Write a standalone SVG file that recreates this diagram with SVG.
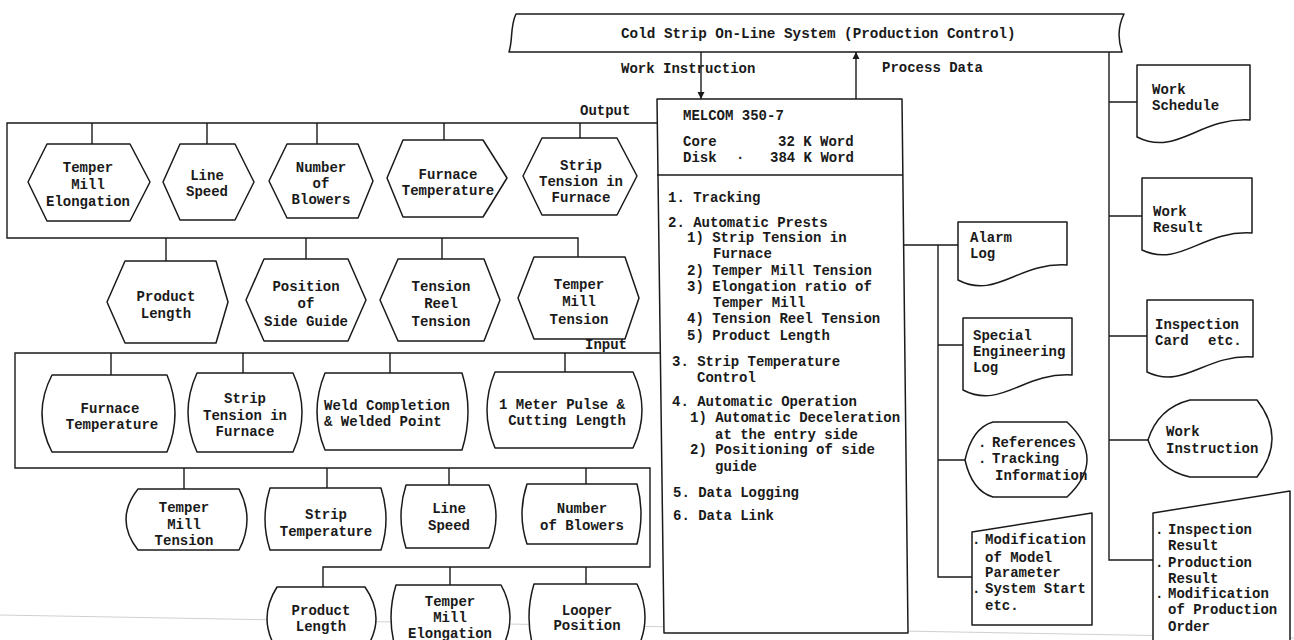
<svg xmlns="http://www.w3.org/2000/svg" width="1294" height="640" viewBox="0 0 1294 640">
<defs>
<marker id="ah" markerWidth="8" markerHeight="8" refX="7" refY="4" orient="auto" markerUnits="userSpaceOnUse"><path d="M0,0.5 L7,4 L0,7.5 z" fill="#1a1a1a"/></marker>
<style>
.s{fill:#fff;stroke:#1a1a1a;stroke-width:1.5;stroke-linejoin:round}
.c{fill:none;stroke:#1a1a1a;stroke-width:1.4}
text{font-family:"Liberation Mono","DejaVu Sans Mono",monospace;font-size:14px;font-weight:bold;fill:#1a1a1a;stroke:none}
.m{text-anchor:middle}
</style>
</defs>
<rect width="1294" height="640" fill="#fff"/>
<line x1="0" y1="615" x2="1294" y2="638" stroke="#d0d0d0" stroke-width="1"/>

<g id="connectors" class="c">
<path d="M657,123 H7 V238 H578 V257 M92,123 V144 M207,123 V144 M317,123 V144 M444,123 V140 M580,123 V138 M166,238 V261 M306,238 V259 M442,238 V259"/>
<path d="M660,353 H15 V468 H650 V567 H323 V587 M111,353 V375 M243,353 V373 M390,353 V373 M565,353 V372 M184,468 V489 M327,468 V488 M449,468 V485 M586,468 V484 M450,567 V585 M586,567 V584"/>
<path d="M902,245 H958 M938,245 V577 H972 M938,345 H963 M938,460 H965"/>
<path d="M1109,52 V560 H1153 M1109,102 H1137 M1109,216 H1142 M1109,336 H1147 M1109,440 H1148"/>
<line x1="701" y1="52" x2="701" y2="99" marker-end="url(#ah)"/>
<line x1="856" y1="99" x2="856" y2="52" marker-end="url(#ah)"/>
</g>
<g id="connector-labels">
<text x="621" y="73">Work Instruction</text>
<text x="882" y="72">Process Data</text>
<text x="580" y="115">Output</text>
<text x="585" y="349">Input</text>
</g>

<g id="banner">
<path class="s" d="M516,14 H1124 C1118,26 1118,40 1122,52 H509 C513,40 510,26 516,14 Z"/>
<text x="621" y="38" style="font-size:14.3px">Cold Strip On-Line System (Production Control)</text>
</g>

<g id="melcom">
<path class="s" d="M657,99 L902,99 L908,633 L664,633 Z"/>
<path class="c" d="M657,175 L903,175"/>
<text x="683" y="120">MELCOM 350-7</text>
<text x="683" y="146">Core</text><text x="778" y="146">32 K Word</text>
<text x="683" y="162">Disk</text><text x="736" y="162">·</text><text x="770" y="162">384 K Word</text>
<text x="668" y="202">1. Tracking</text>
<text x="668" y="227">2. Automatic Prests</text>
<text x="687" y="242">1) Strip Tension in</text>
<text x="713" y="258">Furnace</text>
<text x="687" y="275">2) Temper Mill Tension</text>
<text x="687" y="291">3) Elongation ratio of</text>
<text x="713" y="307">Temper Mill</text>
<text x="687" y="323">4) Tension Reel Tension</text>
<text x="687" y="340">5) Product Length</text>
<text x="672" y="366">3. Strip Temperature</text>
<text x="697" y="382">Control</text>
<text x="672" y="406">4. Automatic Operation</text>
<text x="690" y="422">1) Automatic Deceleration</text>
<text x="715" y="439">at the entry side</text>
<text x="690" y="454">2) Positioning of side</text>
<text x="715" y="471">guide</text>
<text x="673" y="497">5. Data Logging</text>
<text x="673" y="520">6. Data Link</text>
</g>

<g id="out-tm-elong"><polygon class="s" points="28,182 47,144 130,144 150,182 130,221 47,221"/>
<text class="m" x="88" y="172">Temper</text><text class="m" x="88" y="189">Mill</text><text class="m" x="88" y="206">Elongation</text></g>
<g id="out-line-speed"><polygon class="s" points="163,182 180,144 235,144 254,182 235,220 180,220"/>
<text class="m" x="207" y="180">Line</text><text class="m" x="207" y="196">Speed</text></g>
<g id="out-blowers"><polygon class="s" points="269,181 287,144 358,144 373,181 358,218 287,218"/>
<text class="m" x="321" y="172">Number</text><text class="m" x="321" y="188">of</text><text class="m" x="321" y="204">Blowers</text></g>
<g id="out-furnace-temp"><polygon class="s" points="387,178 403,140 483,140 507,178 483,217 403,217"/>
<text class="m" x="448" y="179">Furnace</text><text class="m" x="448" y="195">Temperature</text></g>
<g id="out-strip-tension"><polygon class="s" points="523,176 542,138 617,138 637,176 617,215 542,215"/>
<text class="m" x="581" y="170">Strip</text><text class="m" x="581" y="186">Tension in</text><text class="m" x="581" y="202">Furnace</text></g>

<g id="out-product-length"><polygon class="s" points="107,302 125,261 216,261 228,302 216,343 125,343"/>
<text class="m" x="166" y="301">Product</text><text class="m" x="166" y="318">Length</text></g>
<g id="out-side-guide"><polygon class="s" points="246,300 264,259 348,259 366,300 348,341 264,341"/>
<text class="m" x="306" y="291">Position</text><text class="m" x="306" y="308">of</text><text class="m" x="306" y="326">Side Guide</text></g>
<g id="out-reel-tension"><polygon class="s" points="380,300 398,259 484,259 500,300 484,341 398,341"/>
<text class="m" x="441" y="291">Tension</text><text class="m" x="441" y="308">Reel</text><text class="m" x="441" y="326">Tension</text></g>
<g id="out-tm-tension"><polygon class="s" points="518,298 534,257 625,257 639,298 625,339 534,339"/>
<text class="m" x="579" y="289">Temper</text><text class="m" x="579" y="306">Mill</text><text class="m" x="579" y="324">Tension</text></g>

<g id="in-furnace-temp"><path class="s" d="M52,375 H167 Q183,413.5 167,452 H52 Q32,413.5 52,375 Z"/>
<text class="m" x="110" y="413">Furnace</text><text class="m" x="112" y="429">Temperature</text></g>
<g id="in-strip-tension"><path class="s" d="M197,373 H293 Q311,412.5 293,452 H197 Q179,412.5 197,373 Z"/>
<text class="m" x="245" y="403">Strip</text><text class="m" x="245" y="420">Tension in</text><text class="m" x="245" y="436">Furnace</text></g>
<g id="in-weld"><path class="s" d="M325,373 H462 Q474,411.5 462,450 H325 Q309,411.5 325,373 Z"/>
<text x="324" y="410">Weld Completion</text><text x="324" y="426">&amp; Welded Point</text></g>
<g id="in-meter-pulse"><path class="s" d="M495,372 H633 Q651,410 633,448 H495 Q479,410 495,372 Z"/>
<text class="m" x="562" y="409">1 Meter Pulse &amp;</text><text class="m" x="567" y="425">Cutting Length</text></g>

<g id="in-tm-tension"><path class="s" d="M138,489 H239 Q255,519.5 239,550 H138 Q114,519.5 138,489 Z"/>
<text class="m" x="184" y="512">Temper</text><text class="m" x="184" y="529">Mill</text><text class="m" x="184" y="545">Tension</text></g>
<g id="in-strip-temp"><path class="s" d="M270,488 H381 Q391,519 381,550 H270 Q260,519 270,488 Z"/>
<text class="m" x="326" y="519">Strip</text><text class="m" x="326" y="536">Temperature</text></g>
<g id="in-line-speed"><path class="s" d="M406,485 H489 Q503,516.5 489,548 H406 Q396,516.5 406,485 Z"/>
<text class="m" x="449" y="513">Line</text><text class="m" x="449" y="530">Speed</text></g>
<g id="in-blowers"><path class="s" d="M527,484 H637 Q645,514 637,544 H527 Q517,514 527,484 Z"/>
<text class="m" x="582" y="513">Number</text><text class="m" x="582" y="530">of Blowers</text></g>

<g id="in-product-length"><path class="s" d="M277,587 H365 Q387,618.5 365,650 H277 Q257,618.5 277,587 Z"/>
<text class="m" x="321" y="615">Product</text><text class="m" x="321" y="631">Length</text></g>
<g id="in-tm-elong"><path class="s" d="M396,585 H501 Q519,617.5 501,650 H396 Q386,617.5 396,585 Z"/>
<text class="m" x="450" y="606">Temper</text><text class="m" x="450" y="622">Mill</text><text class="m" x="450" y="638">Elongation</text></g>
<g id="in-looper"><path class="s" d="M534,584 H637 Q653,617 637,650 H534 Q524,617 534,584 Z"/>
<text class="m" x="587" y="615">Looper</text><text class="m" x="587" y="630">Position</text></g>

<g id="alarm-log"><path class="s" d="M958,222 H1067 V265 C1018,262 996,300 958,280 Z"/>
<text x="970" y="242">Alarm</text><text x="970" y="258">Log</text></g>
<g id="special-log"><path class="s" d="M963,318 H1072 V375 C1023,372 1001,410 963,390 Z"/>
<text x="973" y="340">Special</text><text x="973" y="356">Engineering</text><text x="973" y="372">Log</text></g>
<g id="references"><path class="s" d="M993,422 H1067 Q1107,459.5 1067,497 H993 Q972,491 965,460 Q972,428 993,422 Z"/>
<text x="978" y="447">.</text><text x="992" y="447">References</text>
<text x="978" y="463">.</text><text x="992" y="463">Tracking</text>
<text x="995" y="480">Information</text></g>
<g id="modification"><polygon class="s" points="972,532 1092,513 1092,625 972,625"/>
<text x="972" y="544">.</text><text x="985" y="544">Modification</text>
<text x="985" y="562">of Model</text>
<text x="985" y="577">Parameter</text>
<text x="972" y="593">.</text><text x="985" y="593">System Start</text>
<text x="985" y="610">etc.</text></g>

<g id="work-schedule"><path class="s" d="M1137,65 H1250 V120 C1199,117 1177,157 1137,137 Z"/>
<text x="1152" y="94">Work</text><text x="1152" y="110">Schedule</text></g>
<g id="work-result"><path class="s" d="M1142,178 H1252 V233 C1202,230 1180,268 1142,250 Z"/>
<text x="1153" y="216">Work</text><text x="1153" y="232">Result</text></g>
<g id="inspection-card"><path class="s" d="M1147,300 H1253 V357 C1205,354 1184,390 1147,372 Z"/>
<text x="1155" y="329">Inspection</text><text x="1155" y="345">Card</text><text x="1208" y="345">etc.</text></g>
<g id="work-instruction"><path class="s" d="M1190,400 H1257 Q1287,438.5 1257,477 H1190 Q1158,470 1148,440 Q1158,408 1190,400 Z"/>
<text x="1166" y="436">Work</text><text x="1166" y="453">Instruction</text></g>
<g id="production-input"><polygon class="s" points="1153,513 1290,491 1290,652 1153,652"/>
<text x="1155" y="534">.</text><text x="1168" y="534">Inspection</text>
<text x="1168" y="550">Result</text>
<text x="1155" y="567">.</text><text x="1168" y="567">Production</text>
<text x="1168" y="583">Result</text>
<text x="1155" y="598">.</text><text x="1168" y="598">Modification</text>
<text x="1168" y="614">of Production</text>
<text x="1168" y="631">Order</text></g>
</svg>
